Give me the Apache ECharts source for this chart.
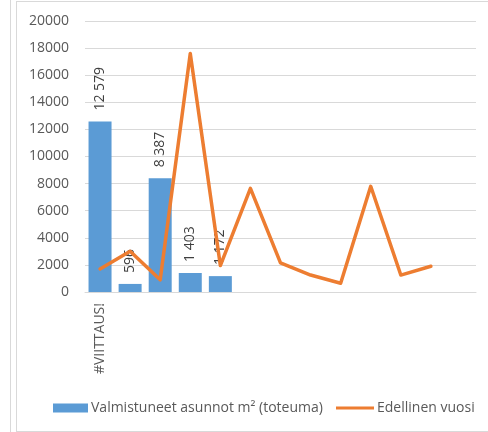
<!DOCTYPE html>
<html><head><meta charset="utf-8">
<script src="https://cdn.jsdelivr.net/npm/echarts@6/dist/echarts.min.js"></script>
<style>
html,body{margin:0;padding:0;background:#fff;}
#wrap{position:relative;width:488px;height:432px;overflow:hidden;}
#l1{position:absolute;left:10px;top:0;width:1px;height:432px;background:#d9d9d9;}
#frame{position:absolute;left:16px;top:1px;width:480px;height:429px;border:1px solid #d9d9d9;}
#chart{position:absolute;left:0;top:0;width:488px;height:432px;}
</style></head>
<body><div id="wrap"><div id="l1"></div><div id="frame"></div><div id="chart"></div></div>
<script>
const categories = ['#VIITTAUS!', '', '', '', '', '', '', '', '', '', '', '', ''];
const barName = 'Valmistuneet asunnot m² (toteuma)';
const lineName = 'Edellinen vuosi';
const barValues = [12579, 596, 8387, 1403, 1172, null, null, null, null, null, null, null, null];
const lineValues = [1700, 3000, 900, 17600, 1950, 7650, 2150, 1250, 650, 7800, 1250, 1900, null];
const yMin = 0, yMax = 20000, yStep = 2000;

const FONT = 'Open Sans';
const chart = echarts.init(document.getElementById('chart'), null, {renderer: 'canvas'});
const fmt = v => (v == null ? '' : String(v).replace(/\B(?=(\d{3})+(?!\d))/g, ' '));

chart.setOption({
  animation: false,
  backgroundColor: 'transparent',
  textStyle: {fontFamily: FONT},
  grid: {left: 85, top: 21, width: 391, height: 271, containLabel: false},
  legend: [
    {
      data: [barName], left: 48, top: 396, icon: 'rect',
      itemWidth: 35, itemHeight: 9, itemGap: 0,
      textStyle: {color: '#595959', fontSize: 14, fontFamily: FONT, padding: [0, 0, 0, -2]}
    },
    {
      data: [lineName], left: 331, top: 396, icon: 'rect',
      itemWidth: 38, itemHeight: 3, itemGap: 0,
      textStyle: {color: '#595959', fontSize: 14, fontFamily: FONT, padding: [0, 0, 0, -2]}
    }
  ],
  xAxis: {
    type: 'category', data: categories,
    axisLine: {show: true, lineStyle: {color: '#d9d9d9', width: 1}},
    axisTick: {show: false},
    axisLabel: {interval: 0, rotate: 90, margin: 11, color: '#595959', fontSize: 14, fontFamily: FONT}
  },
  yAxis: {
    type: 'value', min: yMin, max: yMax, interval: yStep,
    axisLine: {show: false}, axisTick: {show: false},
    splitLine: {lineStyle: {color: '#d9d9d9', width: 1}},
    axisLabel: {margin: 16, color: '#595959', fontSize: 14, fontFamily: FONT, formatter: v => String(v)}
  },
  series: [
    {
      name: barName, type: 'bar', data: barValues, barWidth: 23,
      itemStyle: {color: '#5B9BD5'},
      label: {
        show: true, position: 'top', rotate: 90, align: 'left', verticalAlign: 'middle',
        distance: 11, color: '#404040', fontSize: 14, fontFamily: FONT,
        formatter: p => fmt(p.value)
      }
    },
    {
      name: lineName, type: 'line', data: lineValues, symbol: 'none',
      itemStyle: {color: '#ED7D31'},
      lineStyle: {color: '#ED7D31', width: 3.5, cap: 'round', join: 'round'},
      z: 3
    }
  ]
});
</script>
</body></html>
